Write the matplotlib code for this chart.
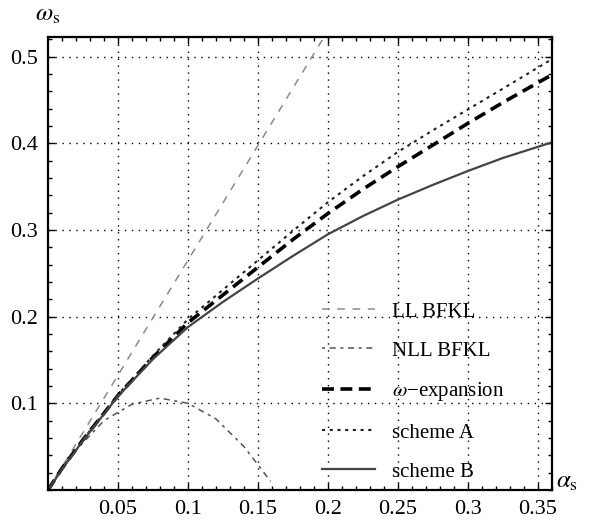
import matplotlib
matplotlib.use("Agg")
import matplotlib.pyplot as plt
from matplotlib.ticker import MultipleLocator, FixedLocator, FixedFormatter

plt.rcParams['font.family'] = ['Liberation Serif', 'DejaVu Serif']
plt.rcParams['mathtext.fontset'] = 'stix'

# ---- data ----
alpha = [0, 0.01, 0.025, 0.05, 0.075, 0.1, 0.125, 0.15, 0.175, 0.2,
         0.225, 0.25, 0.275, 0.3, 0.325, 0.36]
scheme_B = [0, 0.024, 0.057, 0.108, 0.151, 0.188, 0.217, 0.244, 0.270, 0.295,
            0.316, 0.335, 0.352, 0.368, 0.383, 0.401]
omega_exp = [0, 0.025, 0.058, 0.109, 0.153, 0.193, 0.225, 0.257, 0.289, 0.319,
             0.347, 0.373, 0.398, 0.423, 0.447, 0.479]
scheme_A = [0, 0.025, 0.058, 0.110, 0.155, 0.197, 0.231, 0.265, 0.299, 0.332,
            0.362, 0.390, 0.415, 0.439, 0.463, 0.497]

ll_alpha = [0, 0.2]
ll_omega = [0, 0.53]

nll_alpha = [0, 0.02, 0.04, 0.06, 0.08, 0.1, 0.12, 0.14, 0.159]
nll_omega = [0, 0.046, 0.080, 0.099, 0.106, 0.100, 0.082, 0.050, 0.010]

xticks = [0.05, 0.1, 0.15, 0.2, 0.25, 0.3, 0.35]
xticklabels = ['0.05', '0.1', '0.15', '0.2', '0.25', '0.3', '0.35']
yticks = [0.1, 0.2, 0.3, 0.4, 0.5]
yticklabels = ['0.1', '0.2', '0.3', '0.4', '0.5']
labels = ['LL BFKL', 'NLL BFKL', r'$\omega$' + '\u2212expansion', 'scheme A', 'scheme B']

fig = plt.figure(figsize=(5.89, 5.20), dpi=100)
ax = fig.add_axes([48/589, 30/520, (552-48)/589, (490-37)/520])

ax.plot(ll_alpha, ll_omega, color='#8a8a8a', lw=1.1, ls=(0, (5, 5)), label=labels[0])
ax.plot(nll_alpha, nll_omega, color='#555555', lw=1.1, ls=(0, (2, 3, 4, 3)), label=labels[1])
ax.plot(alpha, omega_exp, color='black', lw=2.6, ls=(0, (3.3, 1.8)), label=labels[2])
ax.plot(alpha, scheme_A, color='#222222', lw=1.5, ls=(0, (1.5, 2.2)), label=labels[3])
ax.plot(alpha, scheme_B, color='#444444', lw=1.6, ls='-', label=labels[4])

ax.set_xlim(0, 0.36)
ax.set_ylim(0, 0.5225)

ax.xaxis.set_major_locator(FixedLocator(xticks))
ax.xaxis.set_major_formatter(FixedFormatter(xticklabels))
ax.yaxis.set_major_locator(FixedLocator(yticks))
ax.yaxis.set_major_formatter(FixedFormatter(yticklabels))
ax.xaxis.set_minor_locator(MultipleLocator(0.01))
ax.yaxis.set_minor_locator(MultipleLocator(0.02))

ax.tick_params(which='both', direction='in', top=True, right=True, width=1, color='black')
ax.tick_params(which='major', length=5, labelsize=16, pad=7)
ax.tick_params(which='minor', length=3)

for s in ax.spines.values():
    s.set_linewidth(1.6)

ax.grid(True, which='major', color='black', ls=(0, (1, 4)), lw=1.0)

ax.text(48/589, 1 - 15/520, r'$\omega_{\mathrm{s}}$', transform=fig.transFigure,
        ha='center', va='center', fontsize=18)
ax.text(567/589, 1 - 482/520, r'$\alpha_{\mathrm{s}}$', transform=fig.transFigure,
        ha='center', va='center', fontsize=18)

leg = ax.legend(loc='upper left', bbox_to_anchor=(322/589, 1 - 302/520),
                bbox_transform=fig.transFigure, frameon=False, fontsize=15,
                handlelength=2.55, handletextpad=0.8, labelspacing=0.94,
                borderpad=0, borderaxespad=0)

fig.savefig('out.png', dpi=100)
